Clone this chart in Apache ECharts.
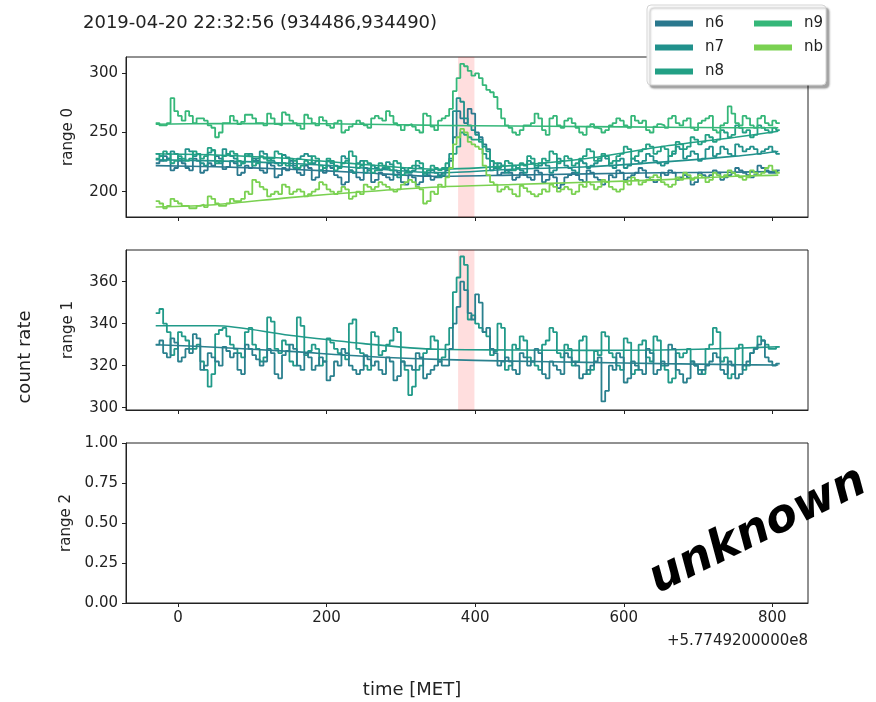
<!DOCTYPE html>
<html>
<head>
<meta charset="utf-8">
<script src="https://cdn.jsdelivr.net/npm/echarts@6/dist/echarts.min.js"></script>
<style>
  html, body { margin: 0; padding: 0; background: #fff; }
  #chart { width: 876px; height: 702px; }
</style>
</head>
<body>
<div id="chart"></div>
<script>
// Light-curve bins: 5 s wide, first bin starts at -30 s (relative MET)
const binStart = -30;
const binWidth = 5;

// range 0 count rates per detector (one row = 50 s)
const n6 = [
  224, 226, 230, 228, 218, 220, 226, 224, 220, 218,
  228, 226, 216, 218, 224, 222, 230, 228, 219, 221,
  226, 224, 214, 216, 222, 220, 228, 226, 218, 216,
  224, 222, 212, 214, 220, 218, 226, 222, 216, 214,
  222, 220, 210, 212, 218, 216, 222, 220, 214, 212,
  206, 208, 218, 216, 212, 210, 220, 218, 208, 210,
  216, 214, 212, 210, 218, 216, 208, 206, 214, 212,
  206, 208, 216, 214, 210, 212, 214, 216, 218, 226,
  246, 268, 262, 258, 270, 266, 250, 246, 240, 236,
  226, 220, 214, 216, 218, 216, 210, 212, 216, 214,
  212, 210, 218, 216, 208, 210, 214, 212, 203, 206,
  212, 214, 216, 214, 210, 208, 218, 216, 212, 210,
  206, 208, 214, 212, 218, 216, 210, 212, 214, 216,
  220, 218, 212, 210, 208, 210, 216, 214, 218, 216,
  210, 212, 214, 212, 206, 208, 216, 214, 212, 214,
  218, 216, 210, 212, 214, 216, 220, 218, 216, 214,
  212, 214, 222, 220, 218, 216, 216, 218
];
const n7 = [
  232, 230, 226, 228, 234, 232, 228, 226, 236, 234,
  230, 232, 224, 222, 233, 235, 226, 224, 236, 232,
  230, 228, 222, 224, 230, 232, 226, 228, 234, 232,
  228, 226, 224, 222, 231, 229, 222, 220, 228, 230,
  232, 230, 224, 226, 218, 220, 226, 224, 222, 220,
  230, 228, 218, 216, 224, 226, 216, 218, 222, 220,
  218, 220, 225, 223, 214, 212, 220, 218, 216, 218,
  222, 220, 214, 216, 218, 216, 212, 214, 220, 232,
  268, 279, 276, 262, 256, 252, 248, 244, 232, 228,
  218, 220, 224, 222, 216, 218, 222, 220, 218, 216,
  226, 224, 220, 222, 224, 222, 216, 218, 228, 226,
  222, 220, 218, 216, 226, 224, 220, 222, 224, 226,
  230, 228, 222, 220, 226, 228, 220, 222, 228, 226,
  224, 226, 232, 230, 226, 224, 222, 224, 230, 232,
  238, 236, 228, 230, 234, 232, 226, 228, 236, 238,
  230, 232, 238, 236, 232, 230, 240, 238, 234, 236,
  238, 236, 232, 234, 236, 238, 234, 232
];
const n8 = [
  228, 230, 234, 232, 224, 226, 230, 228, 226, 228,
  234, 232, 228, 230, 237, 235, 224, 226, 230, 232,
  234, 232, 226, 224, 232, 230, 222, 224, 230, 228,
  226, 228, 234, 232, 224, 222, 228, 226, 220, 222,
  226, 224, 230, 228, 222, 220, 228, 226, 218, 220,
  224, 226, 234, 230, 220, 222, 226, 224, 216, 218,
  224, 222, 220, 218, 226, 224, 214, 216, 220, 222,
  226, 224, 216, 218, 222, 220, 218, 220, 224, 228,
  232, 238, 250, 248, 246, 244, 244, 242, 238, 234,
  226, 224, 220, 222, 226, 224, 218, 220, 224, 222,
  230, 228, 222, 224, 228, 226, 234, 232, 224, 226,
  230, 228, 222, 224, 228, 230, 236, 234, 226, 228,
  232, 230, 224, 226, 230, 232, 238, 236, 228, 230,
  234, 236, 240, 238, 232, 234, 238, 236, 230, 234,
  242, 240, 236, 238, 246, 244, 240, 242, 248, 246,
  242, 244, 252, 250, 246, 248, 256, 254, 250, 252,
  246, 248, 256, 254, 252, 250, 254, 252
];
const n9 = [
  258, 256, 256, 258, 279, 268, 264, 260, 268, 264,
  258, 262, 262, 260, 256, 254, 246, 250, 258, 258,
  264, 260, 257, 259, 265, 265, 262, 258, 258, 256,
  266, 262, 257, 256, 267, 265, 260, 258, 256, 253,
  265, 262, 258, 256, 263, 260, 256, 254, 258, 260,
  250, 252, 255, 257, 260, 258, 256, 254, 262, 264,
  262, 260, 268, 264, 258, 256, 252, 256, 257, 255,
  252, 250, 266, 264, 255, 252, 260, 262, 264, 270,
  285, 296, 308, 306, 302, 298, 300, 296, 290, 286,
  284, 280, 270, 262, 256, 254, 250, 248, 252, 256,
  256, 258, 266, 262, 252, 248, 262, 264, 256, 254,
  260, 262, 258, 254, 250, 248, 255, 257, 254, 253,
  250, 252, 256, 258, 262, 260, 256, 254, 264, 260,
  258, 260, 252, 250, 255, 257, 256, 254, 262, 264,
  258, 256, 260, 262, 254, 252, 258, 260, 262, 264,
  252, 250, 256, 258, 272, 266, 258, 256, 264, 262,
  256, 254, 262, 264, 258, 256, 260, 258
];
const nb = [
  192, 190, 186, 188, 194, 192, 190, 188, 188, 186,
  186, 188, 189, 187, 196, 194, 190, 188, 188, 190,
  194, 192, 192, 194, 200, 198, 210, 208, 204, 202,
  196, 198, 200, 198, 206, 204, 198, 200, 202, 200,
  196, 198, 200, 202, 208, 206, 202, 200, 198, 200,
  204, 202, 194, 196, 200, 198, 206, 204, 202, 204,
  208, 206, 204, 202, 200, 202, 206, 208, 210, 208,
  204, 202, 190, 192, 200, 198, 206, 204, 212, 220,
  240, 246, 253, 250, 242, 240, 238, 236, 222, 214,
  208, 206, 200, 202, 204, 202, 198, 196, 205, 203,
  200, 198, 196, 198, 202, 200, 206, 204, 200, 202,
  204, 202, 198, 200, 206, 204, 208, 206, 202, 204,
  210, 208, 204, 202, 200, 202, 208, 206, 212, 210,
  206, 208, 210, 212, 214, 212, 208, 206, 204, 206,
  212, 210, 216, 214, 210, 212, 214, 212, 208, 210,
  216, 214, 212, 214, 218, 216, 214, 212, 210, 212,
  218, 216, 214, 216, 220, 222, 218, 216
];

// range 1 count rates
const r1a = [
  345, 347, 340, 336, 325, 328, 336, 334, 332, 328,
  328, 330, 322, 318, 310, 316, 335, 337, 338, 334,
  330, 328, 326, 324, 336, 338, 330, 328, 322, 324,
  343, 341, 328, 326, 332, 330, 322, 320, 343, 339,
  325, 327, 330, 328, 320, 322, 333, 331, 328, 326,
  325, 323, 340, 342, 328, 326, 320, 318, 336, 334,
  325, 327, 330, 332, 338, 336, 322, 318, 306, 310,
  318, 320, 326, 328, 334, 332, 322, 324, 330, 338,
  355, 362, 372, 368, 342, 344, 340, 338, 336, 334,
  325, 327, 340, 338, 318, 320, 330, 328, 334, 332,
  324, 322, 320, 318, 330, 332, 338, 336, 326, 324,
  330, 328, 320, 322, 332, 334, 316, 318, 327, 325,
  336, 334, 326, 324, 320, 318, 333, 331, 316, 318,
  330, 332, 324, 322, 334, 332, 320, 318, 312, 314,
  326, 324, 326, 328, 322, 320, 318, 316, 328, 330,
  338, 336, 322, 324, 314, 316, 328, 330, 318, 320,
  326, 328, 334, 332, 330, 328, 328, 329
];
const r1b = [
  330, 332, 326, 324, 333, 331, 322, 324, 328, 326,
  335, 333, 318, 320, 326, 324, 322, 320, 329, 327,
  324, 326, 318, 316, 330, 328, 325, 323, 320, 322,
  328, 326, 316, 314, 325, 327, 330, 328, 320, 318,
  326, 324, 318, 320, 324, 322, 313, 315, 322, 320,
  328, 326, 320, 318, 316, 318, 325, 323, 320, 322,
  318, 316, 324, 322, 313, 315, 322, 320, 320, 318,
  326, 324, 314, 316, 318, 320, 322, 320, 320, 328,
  340, 348, 360, 356, 345, 342, 354, 350, 336, 338,
  328, 326, 320, 322, 324, 322, 318, 316, 326, 324,
  320, 322, 328, 326, 316, 314, 322, 320, 318, 316,
  326, 324, 322, 320, 314, 316, 318, 320, 322, 324,
  303, 308, 320, 318, 326, 324, 312, 314, 322, 320,
  318, 316, 328, 326, 316, 318, 322, 320, 330, 328,
  318, 316, 312, 314, 322, 320, 316, 318, 320, 322,
  326, 324, 318, 316, 322, 320, 314, 316, 320, 322,
  326, 328, 330, 332, 324, 322, 320, 321
];

// Background fits, sampled at these times
const fitTimes = [-30, 50, 150, 250, 350, 450, 550, 650, 750, 808];
const fitN6 = [222, 221, 219, 216, 213, 214, 215, 216, 216.5, 217];
const fitN7 = [227, 226, 224, 220, 216, 219, 221, 225, 230, 234];
const fitN8 = [232, 231, 228, 223, 219, 222, 228, 238, 246, 251];
const fitN9 = [257, 257.5, 257.5, 257, 256, 255.5, 255, 254.5, 254, 254];
const fitNb = [187, 189, 195, 200, 204, 206, 208, 210, 213, 214];
const fitR1a = [339, 339, 334.5, 330.5, 327.8, 327.5, 327.3, 327.5, 328.3, 329];
const fitR1b = [330, 328.8, 326.8, 324.5, 323, 322.2, 321.6, 321, 320.5, 320.3];

// Source interval and axis ticks
const sourceInterval = [377, 399];
const xTicks = [0, 200, 400, 600, 800];
const yTicks0 = [200, 250, 300];
const yTicks1 = [300, 320, 340, 360];
const yTicks2 = [0, 0.25, 0.5, 0.75, 1];

const colors = { n6: '#2a788e', n7: '#21918c', n8: '#22a085', n9: '#35b779', nb: '#7ad151' };
const FONT = 'DejaVu Sans';
const INK = '#222';

function steps(vals) {
  const d = vals.map((v, i) => [binStart + i * binWidth, v]);
  d.push([binStart + vals.length * binWidth, vals[vals.length - 1]]);
  return d;
}
function fitLine(vals) {
  return fitTimes.map((t, i) => [t, vals[i]]);
}

const gridTops = [57, 250, 443];
const grids = gridTops.map(top => ({
  left: 126, top: top, width: 682, height: 160,
  show: true, borderColor: INK, borderWidth: 1, backgroundColor: 'transparent'
}));

const xAxes = [0, 1, 2].map(k => ({
  gridIndex: k, type: 'value', min: -70, max: 848,
  axisLine: { show: true, onZero: false, lineStyle: { color: INK, width: 1 } },
  axisTick: { show: true, customValues: xTicks, length: 4, lineStyle: { color: INK } },
  axisLabel: { show: k === 2, customValues: xTicks, margin: 8,
               fontSize: 15, fontFamily: FONT, color: INK },
  splitLine: { show: false }
}));

function yAxis(k, min, max, ticks, name, fmt) {
  return {
    gridIndex: k, type: 'value', min: min, max: max,
    axisLine: { show: true, onZero: false, lineStyle: { color: INK, width: 1 } },
    axisTick: { show: true, customValues: ticks, length: 4, lineStyle: { color: INK } },
    axisLabel: { customValues: ticks, margin: 8, fontSize: 15, fontFamily: FONT, color: INK,
                 formatter: fmt },
    splitLine: { show: false },
    name: name, nameLocation: 'middle', nameGap: 50,
    nameTextStyle: { fontSize: 15, fontFamily: FONT, color: INK }
  };
}
const yAxes = [
  yAxis(0, 178.6, 313.8, yTicks0, 'range 0', v => String(v)),
  yAxis(1, 298.9, 375.1, yTicks1, 'range 1', v => String(v)),
  yAxis(2, 0, 1, yTicks2, 'range 2', v => v.toFixed(2))
];

function stepSeries(name, vals, color, k) {
  return {
    name: name, type: 'line', step: 'end', data: steps(vals),
    xAxisIndex: k, yAxisIndex: k, showSymbol: false, symbol: 'none',
    lineStyle: { color: color, width: 1.8 }, itemStyle: { color: color }, z: 3
  };
}
function fitSeries(name, vals, color, k) {
  return {
    name: name, type: 'line', data: fitLine(vals), smooth: 0.3,
    xAxisIndex: k, yAxisIndex: k, showSymbol: false, symbol: 'none',
    lineStyle: { color: color, width: 1.6 }, itemStyle: { color: color }, z: 3
  };
}
function shadeSeries(k) {
  return {
    type: 'line', xAxisIndex: k, yAxisIndex: k, data: [], silent: true, z: 1,
    markArea: { silent: true, itemStyle: { color: 'rgba(255,0,0,0.13)' },
                data: [[{ xAxis: sourceInterval[0] }, { xAxis: sourceInterval[1] }]] }
  };
}

const series = [
  shadeSeries(0), shadeSeries(1),
  stepSeries('n6', n6, colors.n6, 0), fitSeries('n6', fitN6, colors.n6, 0),
  stepSeries('n7', n7, colors.n7, 0), fitSeries('n7', fitN7, colors.n7, 0),
  stepSeries('n8', n8, colors.n8, 0), fitSeries('n8', fitN8, colors.n8, 0),
  stepSeries('n9', n9, colors.n9, 0), fitSeries('n9', fitN9, colors.n9, 0),
  stepSeries('nb', nb, colors.nb, 0), fitSeries('nb', fitNb, colors.nb, 0),
  stepSeries('n8', r1a, '#219a89', 1), fitSeries('n8', fitR1a, '#219a89', 1),
  stepSeries('n6', r1b, '#2a808e', 1), fitSeries('n6', fitR1b, '#2a808e', 1)
];

const legendCommon = {
  orient: 'vertical', top: 11, itemWidth: 38, itemHeight: 6, itemGap: 9,
  icon: 'rect', z: 20, selectedMode: false,
  textStyle: { fontSize: 15, fontFamily: FONT, color: INK, padding: [0, 0, 0, 7] }
};

const option = {
  animation: false,
  backgroundColor: '#fff',
  title: {
    text: '2019-04-20 22:32:56 (934486,934490)', left: 83, top: 14, padding: 0,
    textStyle: { fontSize: 18, fontWeight: 'normal', fontFamily: FONT, color: INK }
  },
  legend: [
    Object.assign({}, legendCommon, { left: 650, data: ['n6', 'n7', 'n8'] }),
    Object.assign({}, legendCommon, { left: 749, data: ['n9', 'nb'] })
  ],
  grid: grids,
  xAxis: xAxes,
  yAxis: yAxes,
  series: series,
  graphic: [
    {
      type: 'rect', z: 15,
      shape: { x: 647, y: 5, width: 179, height: 80, r: 4 },
      style: { fill: '#fff', stroke: '#d4d4d4', lineWidth: 1,
               shadowBlur: 2, shadowOffsetX: 3, shadowOffsetY: 3, shadowColor: 'rgba(0,0,0,0.35)' }
    },
    {
      type: 'text', x: 25, y: 357, rotation: Math.PI / 2, z: 20,
      style: { text: 'count rate', font: '18px "DejaVu Sans"', fill: INK,
               textAlign: 'center', textVerticalAlign: 'middle' }
    },
    {
      type: 'text', x: 412, y: 690, z: 20,
      style: { text: 'time [MET]', font: '18px "DejaVu Sans"', fill: INK,
               textAlign: 'center', textVerticalAlign: 'middle' }
    },
    {
      type: 'text', x: 808, y: 641, z: 20,
      style: { text: '+5.7749200000e8', font: '15px "DejaVu Sans"', fill: INK,
               textAlign: 'right', textVerticalAlign: 'middle' }
    },
    {
      type: 'text', x: 758, y: 531, rotation: 26 * Math.PI / 180, z: 20,
      style: { text: 'unknown', font: 'italic bold 46px "DejaVu Sans"', fill: '#000',
               textAlign: 'center', textVerticalAlign: 'middle' }
    }
  ]
};

const chart = echarts.init(document.getElementById('chart'), null, { renderer: 'canvas' });
chart.setOption(option);
</script>
</body>
</html>
